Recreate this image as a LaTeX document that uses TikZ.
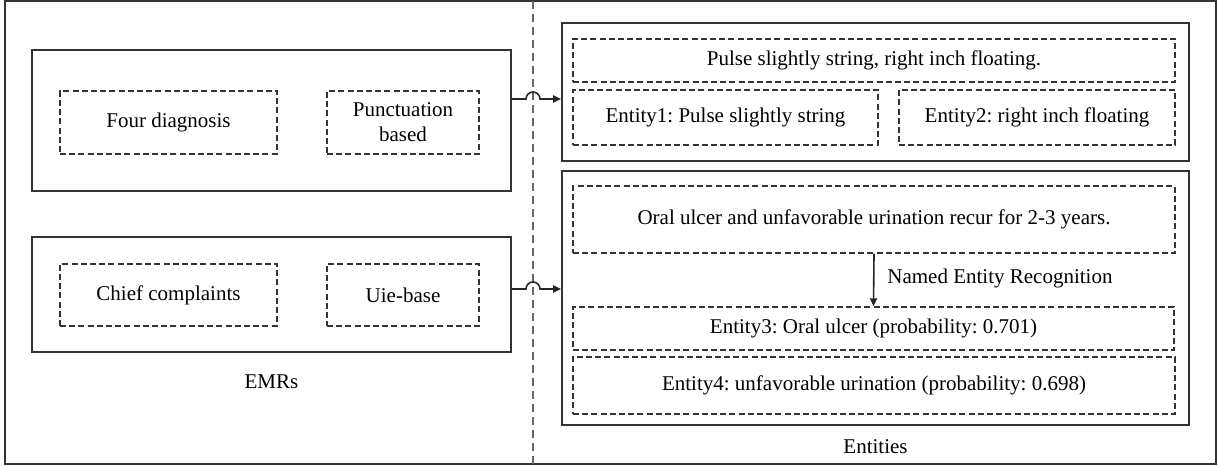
\documentclass[tikz,border=0pt]{standalone}
\usepackage{fontspec}
\setmainfont{Liberation Serif}
\usetikzlibrary{arrows.meta}
\frenchspacing

\tikzset{
  frame/.style={draw=black!80, line width=0.9pt, inner sep=0pt},
  dbox/.style={draw=black!80, line width=0.7pt, dash pattern=on 3pt off 1.6pt,
    inner sep=0pt, align=center, font=\fontsize{10.5}{12.5}\selectfont},
  lbl/.style={inner sep=0pt, font=\fontsize{10.5}{12.5}\selectfont},
  conn/.style={draw=black!85, line width=0.8pt, -{Triangle[length=4pt, width=3.6pt]}}
}

\begin{document}
\begin{tikzpicture}[x=0.5pt, y=-0.5pt]
      \useasboundingbox (0,0) rectangle (1218,466);
      \draw [black!80, line width=0.8pt] (5,1) rectangle (1216,464);
      \draw [black!60, line width=0.7pt, dash pattern=on 4pt off 2.5pt] (533,1) -- (533,464);
      % EMRs side
      \node [frame, minimum width=239.5pt, minimum height=70.5pt] (emrA) at (271.5,120.5) {};
      \node [dbox, minimum width=108.5pt, minimum height=31.5pt] (four) at (168.5,122.5) {Four diagnosis};
      \node [dbox, minimum width=76pt, minimum height=31.5pt] (punct) at (403,122.5) {Punctuation\\based};
      \node [frame, minimum width=239.5pt, minimum height=57.5pt] (emrB) at (271.5,294.5) {};
      \node [dbox, minimum width=108.5pt, minimum height=31pt] (chief) at (168.5,295) {Chief complaints};
      \node [dbox, minimum width=76pt, minimum height=31pt] (uie) at (403,295) {Uie-base};
      \node [lbl] (emrs) at (271.5,382) {EMRs};
      % Entities side
      \node [frame, minimum width=313.5pt, minimum height=69pt] (entA) at (875.5,92) {};
      \node [dbox, minimum width=301pt, minimum height=21.5pt] (pulse) at (874,60.5) {Pulse slightly string, right inch floating.};
      \node [dbox, minimum width=152.5pt, minimum height=27.5pt] (ent1) at (725.5,117.5) {Entity1: Pulse slightly string};
      \node [dbox, minimum width=138pt, minimum height=27.5pt] (ent2) at (1037,117.5) {Entity2: right inch floating};
      \node [frame, minimum width=313.5pt, minimum height=127pt] (entB) at (875.5,298) {};
      \node [dbox, minimum width=301pt, minimum height=33.5pt] (oral) at (874,219.5) {Oral ulcer and unfavorable urination recur for 2-3 years.};
      \node [dbox, minimum width=300.5pt, minimum height=21.5pt] (ent3) at (873.5,328.5) {Entity3: Oral ulcer (probability: 0.701)};
      \node [dbox, minimum width=301pt, minimum height=28.5pt] (ent4) at (874,385.5) {Entity4: unfavorable urination (probability: 0.698)};
      \node [lbl] (entities) at (875.5,447) {Entities};
      \draw [conn] (oral.south) -- (ent3.north);
      \node [lbl, anchor=west] (ner) at (887,278) {Named Entity Recognition};
      % connectors hopping over the divider
      \coordinate (hopA) at (533,99);
      \coordinate (hopB) at (533,289);
      \draw [conn] (emrA.east |- hopA) -- ([xshift=-3.5pt]hopA) arc [start angle=180, end angle=0, radius=3.5pt] -- (entA.west |- hopA);
      \draw [conn] (emrB.east |- hopB) -- ([xshift=-3.5pt]hopB) arc [start angle=180, end angle=0, radius=3.5pt] -- (entB.west |- hopB);
    \end{tikzpicture}
\end{document}
